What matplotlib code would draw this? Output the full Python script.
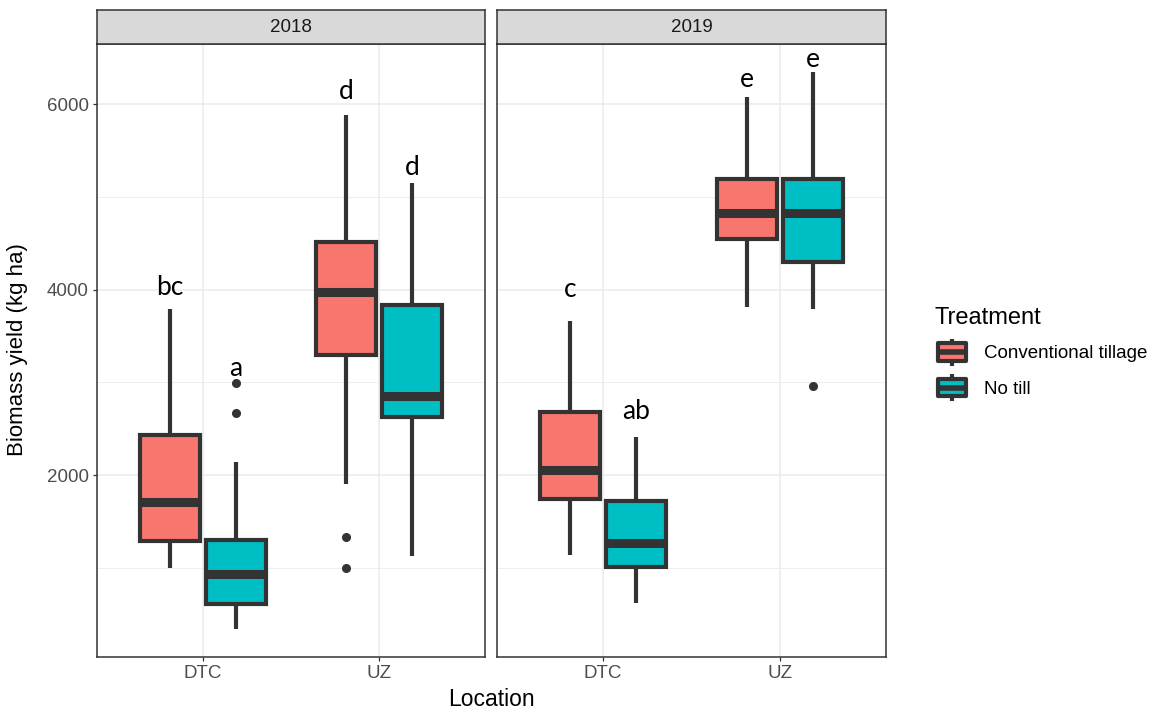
import matplotlib
matplotlib.use('Agg')
import matplotlib.pyplot as plt
from matplotlib.legend_handler import HandlerBase
from matplotlib.patches import Rectangle, Patch
from matplotlib.lines import Line2D

# ---------------- data ----------------
years = ['2018', '2019']
locations = ['DTC', 'UZ']
treatments = ['Conventional tillage', 'No till']
fill_colors = ['#F8766D', '#00BFC4']

# (whisker low, Q1, median, Q3, whisker high) for DTC, UZ
box_2018_ct = [(1004, 1285, 1716, 2437, 3788), (1910, 3295, 3975, 4514, 5884)]
box_2018_nt = [(342, 608, 939, 1299, 2144), (1126, 2626, 2852, 3834, 5147)]
box_2019_ct = [(1138, 1745, 2061, 2679, 3663), (3812, 4545, 4832, 5192, 6082)]
box_2019_nt = [(617, 1012, 1271, 1717, 2413), (3797, 4304, 4832, 5192, 6345)]

# outliers for DTC, UZ
out_2018_ct = [[], [1328, 1000]]
out_2018_nt = [[2989, 2672], []]
out_2019_ct = [[], []]
out_2019_nt = [[], [2959]]

# significance letters and their heights, for DTC, UZ
let_2018_ct = ['bc', 'd']
let_2018_ct_y = [4028, 6133]
let_2018_nt = ['a', 'd']
let_2018_nt_y = [3155, 5313]
let_2019_ct = ['c', 'e']
let_2019_ct_y = [4007, 6262]
let_2019_nt = ['ab', 'e']
let_2019_nt_y = [2690, 6478]

y_ticks = [2000, 4000, 6000]
y_minor = [1000, 3000, 5000]

panel_boxes = {'2018': [box_2018_ct, box_2018_nt], '2019': [box_2019_ct, box_2019_nt]}
panel_out = {'2018': [out_2018_ct, out_2018_nt], '2019': [out_2019_ct, out_2019_nt]}
panel_let = {'2018': [(let_2018_ct, let_2018_ct_y), (let_2018_nt, let_2018_nt_y)],
             '2019': [(let_2019_ct, let_2019_ct_y), (let_2019_nt, let_2019_nt_y)]}

# ---------------- style ----------------
W, H = 1156, 713
DARK = '#333333'
GRID = '#EBEBEB'
plt.rcParams['font.family'] = ['Liberation Sans', 'DejaVu Sans']

fig = plt.figure(figsize=(W / 100, H / 100), dpi=100)

def fx(px):
    return px / W

def fy(py):
    return 1 - py / H

panel_x = [(97, 485), (497, 886)]
panel_top, panel_bot, strip_top = 44, 657, 10
offsets = [-0.1875, 0.1875]
box_w = 0.3375

for pi, yr in enumerate(years):
    x0, x1 = panel_x[pi]
    ax = fig.add_axes([fx(x0), fy(panel_bot), fx(x1 - x0), (panel_bot - panel_top) / H])
    ax.set_axisbelow(True)

    for ti in range(2):
        boxes = panel_boxes[yr][ti]
        outs = panel_out[yr][ti]
        stats = []
        pos = []
        for li in range(2):
            lo, q1, med, q3, hi = boxes[li]
            stats.append(dict(whislo=lo, q1=q1, med=med, q3=q3, whishi=hi, fliers=outs[li]))
            pos.append(li + 1 + offsets[ti])
        ax.bxp(stats, positions=pos, widths=[box_w] * 2, patch_artist=True,
               showcaps=False, manage_ticks=False,
               boxprops=dict(facecolor=fill_colors[ti], edgecolor=DARK, linewidth=3.0),
               medianprops=dict(color=DARK, linewidth=6.5, solid_capstyle='butt'),
               whiskerprops=dict(color=DARK, linewidth=3.0, solid_capstyle='butt'),
               flierprops=dict(marker='o', markerfacecolor=DARK, markeredgecolor=DARK,
                               markersize=5.5))
        labs, labs_y = panel_let[yr][ti]
        for li in range(2):
            ax.text(li + 1 + offsets[ti], labs_y[li], labs[li], ha='center', va='center',
                    fontsize=19, family=['Lato', 'DejaVu Sans'], color='black')

    ax.set_xlim(0.4, 2.6)
    ax.set_ylim(39, 6650)
    ax.set_yticks(y_ticks)
    ax.set_yticks(y_minor, minor=True)
    ax.set_xticks([1, 2])
    ax.set_xticklabels(locations)
    ax.grid(True, which='major', color=GRID, lw=1.1)
    ax.grid(True, which='minor', axis='y', color=GRID, lw=0.6)
    ax.tick_params(which='minor', length=0)
    ax.tick_params(which='major', length=3, width=0.9, color=DARK, labelsize=13.5,
                   labelcolor='#4D4D4D', pad=3)
    if pi == 1:
        ax.set_yticklabels([])
        ax.tick_params(axis='y', which='major', length=0)
    for s in ax.spines.values():
        s.set_color(DARK)
        s.set_linewidth(1.1)

    # strip
    sax = fig.add_axes([fx(x0), fy(panel_top), fx(x1 - x0), (panel_top - strip_top) / H])
    sax.set_facecolor('#D9D9D9')
    sax.set_xticks([])
    sax.set_yticks([])
    for s in sax.spines.values():
        s.set_color(DARK)
        s.set_linewidth(1.1)
    sax.text(0.5, 0.5, yr, ha='center', va='center', fontsize=13.5, color='#1A1A1A',
             transform=sax.transAxes)

fig.text(fx(491), fy(700), 'Location', ha='center', va='center', fontsize=16.5, color='black')
fig.text(fx(18), fy(350), 'Biomass yield (kg ha)', ha='center', va='center',
         rotation=90, fontsize=16, color='black')


class BoxKey(HandlerBase):
    def create_artists(self, legend, orig_handle, xdescent, ydescent, width, height,
                       fontsize, trans):
        fc = orig_handle.get_facecolor()
        x0, y0 = -xdescent, -ydescent
        cx = x0 + width / 2
        wl = Line2D([cx, cx], [y0 - 1, y0 + height + 1], color=DARK, lw=3,
                    solid_capstyle='butt', transform=trans)
        box = Rectangle((x0 + width * 0.08, y0 + height * 0.14), width * 0.84, height * 0.72,
                        facecolor=fc, edgecolor=DARK, lw=3, joinstyle='round',
                        transform=trans)
        med = Line2D([x0 + width * 0.08, x0 + width * 0.92], [y0 + height / 2] * 2,
                     color=DARK, lw=4, solid_capstyle='butt', transform=trans)
        return [wl, box, med]


handles = [Patch(facecolor=c, edgecolor=DARK) for c in fill_colors]
leg = fig.legend(handles, treatments, loc='upper left', bbox_to_anchor=(fx(918), fy(290)),
                 frameon=False, title='Treatment', title_fontsize=17, fontsize=13.5,
                 handler_map={Patch: BoxKey()}, handlelength=1.8, handleheight=1.6,
                 handletextpad=0.8, labelspacing=0.6, alignment='left')

fig.savefig('out.png', dpi=100)
